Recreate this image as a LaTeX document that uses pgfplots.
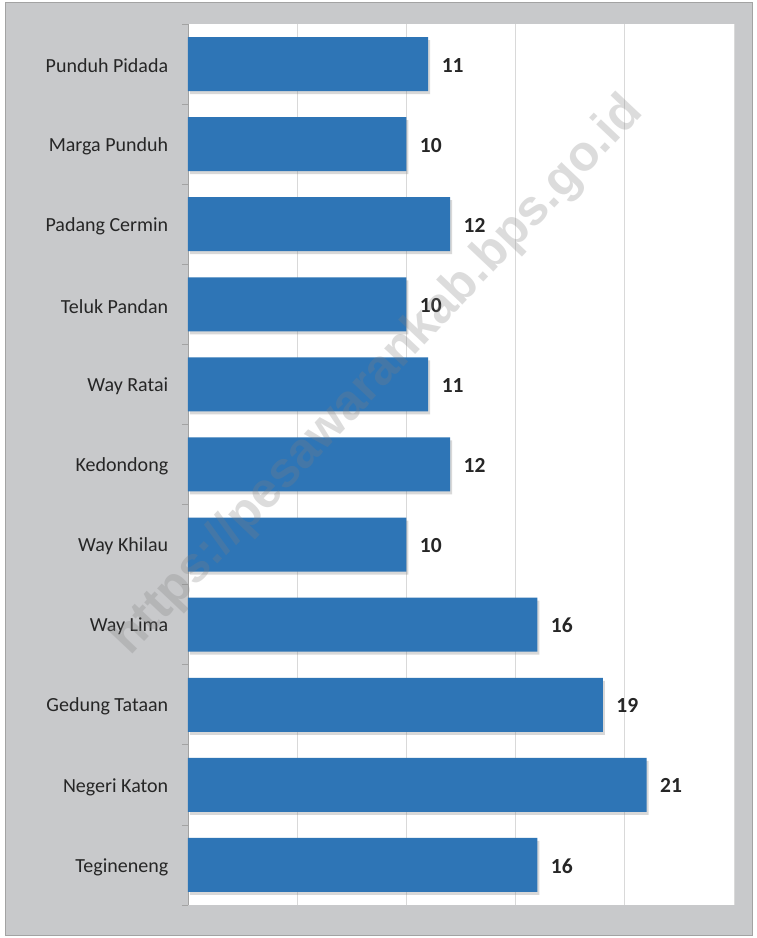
\documentclass[border=0pt]{standalone}
\usepackage{pgfplots}
\pgfplotsset{compat=1.18}
\usepackage{fontspec}
\setmainfont{Carlito}
\newfontfamily\wmfont{Liberation Sans}
\usetikzlibrary{shadows}
\definecolor{barblue}{HTML}{2E75B6}
\definecolor{bggrey}{HTML}{C8C9CB}
\definecolor{framegrey}{HTML}{A3A3A3}
\definecolor{gridgrey}{HTML}{D9D9D9}
\definecolor{txt}{HTML}{262626}
\begin{document}
\begin{tikzpicture}[x=1pt,y=1pt]
\useasboundingbox (0,0) rectangle (757,938);
\fill[white] (0,0) rectangle (757,938);
\filldraw[fill=bggrey,draw=framegrey,line width=1pt] (5,2) rectangle (752,935);
\begin{axis}[
  at={(188pt,33pt)}, anchor=south west,
  scale only axis, width=546pt, height=881pt,
  xbar, bar width=54pt,
  xmin=0, xmax=25,
  ymin=-0.5, ymax=10.5,
  /pgf/number format/assume math mode=true,
  axis background/.style={fill=white},
  axis lines*=left,
  x axis line style={draw=none},
  y axis line style={draw=framegrey, line width=0.8pt},
  xtick={0,5,10,15,20,25}, xticklabels={},
  xmajorgrids, major grid style={gridgrey, line width=0.8pt},
  major x tick style={draw=none},
  ytick={0,...,10},
  yticklabels={Tegineneng,Negeri Katon,Gedung Tataan,Way Lima,Way Khilau,Kedondong,Way Ratai,Teluk Pandan,Padang Cermin,Marga Punduh,Punduh Pidada},
  major y tick style={draw=none},
  minor ytick={-0.5,0.5,...,10.5},
  minor y tick style={draw=framegrey, line width=0.8pt},
  minor tick length=6pt,
  tick align=outside,
  yticklabel style={font=\fontsize{20}{24}\selectfont, text=txt, xshift=-12pt, yshift=-2pt},
  nodes near coords,
  nodes near coords style={font=\bfseries\fontsize{21.5}{25}\selectfont, text=txt, anchor=west, xshift=10pt, yshift=-1pt},
  clip=false,
]
\addplot[fill=barblue, draw=none, drop shadow={shadow xshift=2pt, shadow yshift=-3pt, opacity=0.3}] coordinates {
(16,0) (21,1) (19,2) (16,3) (10,4) (12,5) (11,6) (10,7) (12,8) (10,9) (11,10)};
\end{axis}
\node[rotate=46.6, text=gray, opacity=0.27, font=\wmfont\bfseries\fontsize{50}{58}\selectfont] at (378,562) {https://pesawarankab.bps.go.id};
\end{tikzpicture}
\end{document}
